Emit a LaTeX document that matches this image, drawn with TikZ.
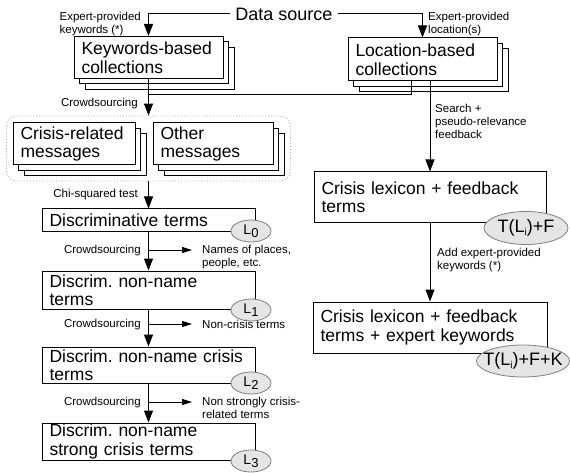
\documentclass[tikz,border=0pt]{standalone}
\usepackage{fontspec}
\setmainfont{Liberation Sans}
\usetikzlibrary{arrows.meta,shapes.geometric,shadows}

\newcommand{\lowidx}[1]{\raisebox{-3pt}{\fontsize{13}{13}\selectfont #1}}
\newcommand{\tinyidx}[1]{\raisebox{-3pt}{\fontsize{10}{10}\selectfont #1}}

\tikzset{
  box/.style={draw, fill=white, line width=1pt, align=left, inner xsep=7.5pt, inner ysep=0pt,
    font=\fontsize{17.5}{18.5}\selectfont\frenchspacing, minimum width=#1, text width=#1-15pt},
  stack/.style={copy shadow={shadow xshift=11pt,shadow yshift=-11pt},
    copy shadow={shadow xshift=5.5pt,shadow yshift=-5.5pt}},
  grp/.style={draw=gray!70, dotted, line width=0.9pt, rounded corners=10pt},
  tag/.style={ellipse, draw=gray, fill=gray!20, line width=0.8pt, inner sep=0pt,
    font=\fontsize{14}{14}\selectfont},
  bigtag/.style={tag, font=\fontsize{18}{18}\selectfont},
  lbl/.style={font=\fontsize{11.5}{13}\selectfont, align=left, inner sep=0pt},
  flow/.style={line width=1pt, -{Triangle[length=12pt,width=9pt]}},
  side/.style={line width=0.8pt, -{Triangle[length=10pt,width=6pt]}},
}

\begin{document}
\begin{tikzpicture}[x=1pt,y=-1pt]
  \useasboundingbox (0,0) rectangle (570,473);

  % sources and collections
  \node[font=\fontsize{18}{18}\selectfont, inner xsep=5pt, inner ysep=0pt] (src) at (284,14) {Data source};
  \node[box=149pt, stack, minimum height=42pt] (kw) at (148.5,57.5) {Keywords-based\\collections};
  \node[box=149pt, stack, minimum height=43pt] (loc) at (422.5,59.5) {Location-based\\collections};
  \node[lbl, anchor=north east] (kwlbl) at (141,12) {Expert-provided\\keywords (*)};
  \node[lbl, anchor=north west] (loclbl) at (428,12) {Expert-provided\\location(s)};

  % labelled messages
  \node[grp, minimum width=284pt, minimum height=65pt] (msgs) at (148.5,148.5) {};
  \node[box=122pt, stack, minimum height=42pt] (crisis) at (74,144) {Crisis-related\\messages};
  \node[box=120pt, stack, minimum height=42pt] (other) at (213,144) {Other\\messages};

  % left column: term lists
  \node[box=213pt, minimum height=22pt] (t0) at (148.5,220) {Discriminative terms};
  \node[box=213pt, minimum height=38pt] (t1) at (148.5,290) {Discrim. non-name\\terms};
  \node[box=213pt, minimum height=36pt] (t2) at (148.5,365) {Discrim. non-name crisis\\terms};
  \node[box=213pt, minimum height=37pt] (t3) at (148.5,441.5) {Discrim. non-name\\strong crisis terms};
  \node[tag, minimum width=40pt, minimum height=22pt] (l0) at (251,231) {\makebox[0pt]{L\lowidx{0}}};
  \node[tag, minimum width=40pt, minimum height=22pt] (l1) at (251,310) {\makebox[0pt]{L\lowidx{1}}};
  \node[tag, minimum width=40pt, minimum height=22pt] (l2) at (251,383) {\makebox[0pt]{L\lowidx{2}}};
  \node[tag, minimum width=40pt, minimum height=22pt] (l3) at (251,461) {\makebox[0pt]{L\lowidx{3}}};

  % right column: lexicon
  \node[box=232pt, minimum height=50pt] (lex) at (430,197) {Crisis lexicon + feedback\\terms};
  \node[box=234pt, minimum height=51pt] (lexk) at (430,327.5) {Crisis lexicon + feedback\\terms + expert keywords};
  \node[bigtag, minimum width=84pt, minimum height=33pt] (tf) at (526,228) {\makebox[0pt]{T(L\tinyidx{i})+F}};
  \node[bigtag, minimum width=93pt, minimum height=32pt] (tfk) at (523,361) {\makebox[0pt]{T(L\tinyidx{i})+F+K}};

  % arrow labels
  \node[lbl, anchor=north east] (cs1) at (138,98.3) {Crowdsourcing};
  \node[lbl, anchor=north east] (chi) at (138,189.3) {Chi-squared test};
  \node[lbl, anchor=north east] (cs2) at (141,245) {Crowdsourcing};
  \node[lbl, anchor=north west] (names) at (202,245) {Names of places,\\people, etc.};
  \node[lbl, anchor=north east] (cs3) at (141,319.3) {Crowdsourcing};
  \node[lbl, anchor=north west] (noncrisis) at (202,319.6) {Non-crisis terms};
  \node[lbl, anchor=north east] (cs4) at (141,396.6) {Crowdsourcing};
  \node[lbl, anchor=north west] (nonstrong) at (202,396.6) {Non strongly crisis-\\related terms};
  \node[lbl, anchor=north west] (search) at (435,104.3) {Search +\\pseudo-relevance\\feedback};
  \node[lbl, anchor=north west] (addkw) at (437,248.3) {Add expert-provided\\keywords (*)};

  % connectors
  \draw[flow] (src.west) -| (kw.north);
  \draw[flow] (src.east) -| (loc.north);
  \coordinate (join) at (148.5,95);
  \draw[line width=1pt] ([xshift=-11.5pt]loc.south) |- (join);
  \draw[flow] (kw.south) -- (msgs.north);
  \draw[flow] (msgs.south) -- (t0.north);
  \draw[flow] (t0.south) -- (t1.north);
  \draw[flow] (t1.south) -- (t2.north);
  \draw[flow] (t2.south) -- (t3.north);
  \draw[flow] (lex.north |- loc.south) -- (lex.north);
  \draw[flow] (lex.south) -- (lexk.north);

  % side outputs
  \coordinate (c1) at (148.5,250);
  \coordinate (e1) at (192,250);
  \coordinate (c2) at (148.5,324);
  \coordinate (e2) at (192,324);
  \coordinate (c3) at (148.5,402);
  \coordinate (e3) at (192,402);
  \draw[side] (c1) -- (e1);
  \draw[side] (c2) -- (e2);
  \draw[side] (c3) -- (e3);
\end{tikzpicture}
\end{document}
